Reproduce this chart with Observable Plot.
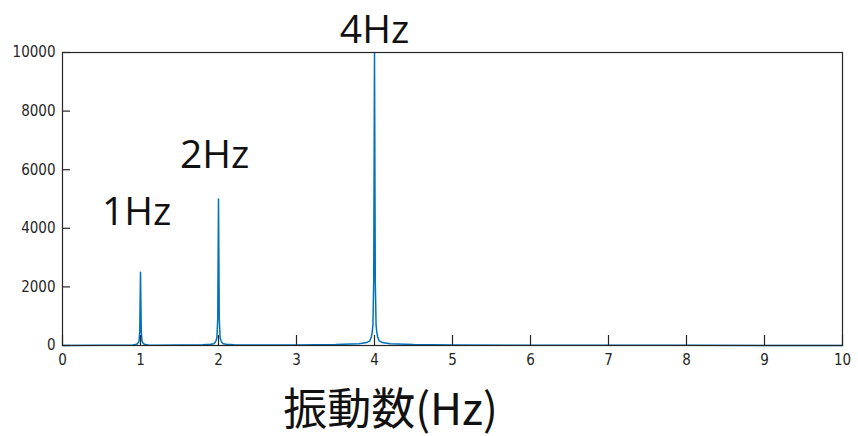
<!DOCTYPE html>
<html>
<head>
<meta charset="utf-8">
<script src="https://cdn.jsdelivr.net/npm/d3@7"></script>
<script src="https://cdn.jsdelivr.net/npm/@observablehq/plot@0.6"></script>
<style>
  html, body { margin: 0; padding: 0; background: #fff; }
  #chart svg { display: block; }
  #chart g[aria-label="x-axis tick label"] text,
  #chart g[aria-label="y-axis tick label"] text { font-stretch: condensed; }
</style>
</head>
<body>
<div id="chart"></div>
<script>
// Frequency (Hz) and FFT amplitude
const freq = [0, 0.5, 0.8, 0.9, 0.94, 0.96, 0.97, 0.98, 0.99, 1.00, 1.01, 1.02, 1.03, 1.04, 1.06, 1.1, 1.2,
  1.5, 1.8, 1.9, 1.94, 1.96, 1.97, 1.98, 1.99, 2.00, 2.01, 2.02, 2.03, 2.04, 2.06, 2.1, 2.2,
  2.5, 3.0, 3.5, 3.8, 3.9, 3.94, 3.96, 3.97, 3.98, 3.99, 4.00, 4.01, 4.02, 4.03, 4.04, 4.06, 4.1, 4.2,
  4.5, 5, 6, 7, 8, 9, 10];
const amp = [4, 6, 12, 20, 30, 60, 90, 140, 450, 2500, 450, 140, 90, 60, 30, 20, 12,
  14, 25, 40, 60, 120, 180, 280, 900, 5000, 900, 280, 180, 120, 60, 40, 25,
  18, 20, 30, 60, 100, 160, 300, 450, 700, 2200, 10000, 2200, 700, 450, 300, 160, 100, 60,
  30, 15, 8, 6, 5, 4, 3];

const xTicks = [0, 1, 2, 3, 4, 5, 6, 7, 8, 9, 10];
const yTicks = [0, 2000, 4000, 6000, 8000, 10000];

const peakLabels = ["1Hz", "2Hz", "4Hz"];
const peakLabelX = [0.95, 1.95, 4.0];
const peakLabelY = [3800, 5750, 10000];
const xLabel = "振動数(Hz)";

const data = freq.map((f, i) => ({f, a: amp[i]}));
const labels = peakLabels.map((t, i) => ({t, x: peakLabelX[i], y: peakLabelY[i]}));

const W = 858, H = 436;
const mL = 62, mR = 16, mT = 52, mB = 91;
const frameW = W - mL - mR, frameH = H - mT - mB;
const tickFont = "'DejaVu Sans Condensed', 'Liberation Sans Narrow', 'DejaVu Sans', sans-serif";

const plot = Plot.plot({
  width: W,
  height: H,
  marginLeft: mL,
  marginRight: mR,
  marginTop: mT,
  marginBottom: mB,
  style: {background: "#fff", overflow: "visible"},
  x: {domain: [0, 10]},
  y: {domain: [0, 10000]},
  marks: [
    Plot.line(data, {x: "f", y: "a", stroke: "#0072BD", strokeWidth: 1.5}),
    Plot.ruleX(xTicks, {x: d => d, insetTop: frameH - 10, stroke: "#262626", strokeWidth: 1.2}),
    Plot.ruleY(yTicks, {y: d => d, insetRight: frameW - 8, stroke: "#262626", strokeWidth: 1.2}),
    Plot.frame({stroke: "#262626", strokeWidth: 1.2}),
    Plot.axisX(xTicks, {tickSize: 0, tickPadding: 9, fontSize: 15, fontFamily: tickFont, fill: "#262626", label: null}),
    Plot.axisY(yTicks, {tickSize: 0, tickPadding: 7, fontSize: 15, fontFamily: tickFont, fill: "#262626", label: null, tickFormat: d => String(d)}),
    Plot.text(labels, {x: "x", y: "y", text: "t", fontSize: 39, fontFamily: "'Open Sans', 'Noto Sans', sans-serif", fill: "#111", textAnchor: "middle", lineAnchor: "middle", dy: -22}),
    Plot.text([xLabel], {text: d => d, frameAnchor: "bottom", dy: 65, dx: -62, fontSize: 44, fontFamily: "'Noto Sans CJK JP', 'Noto Sans', sans-serif", fill: "#111", lineAnchor: "middle"})
  ]
});
document.getElementById("chart").appendChild(plot);
</script>
</body>
</html>
